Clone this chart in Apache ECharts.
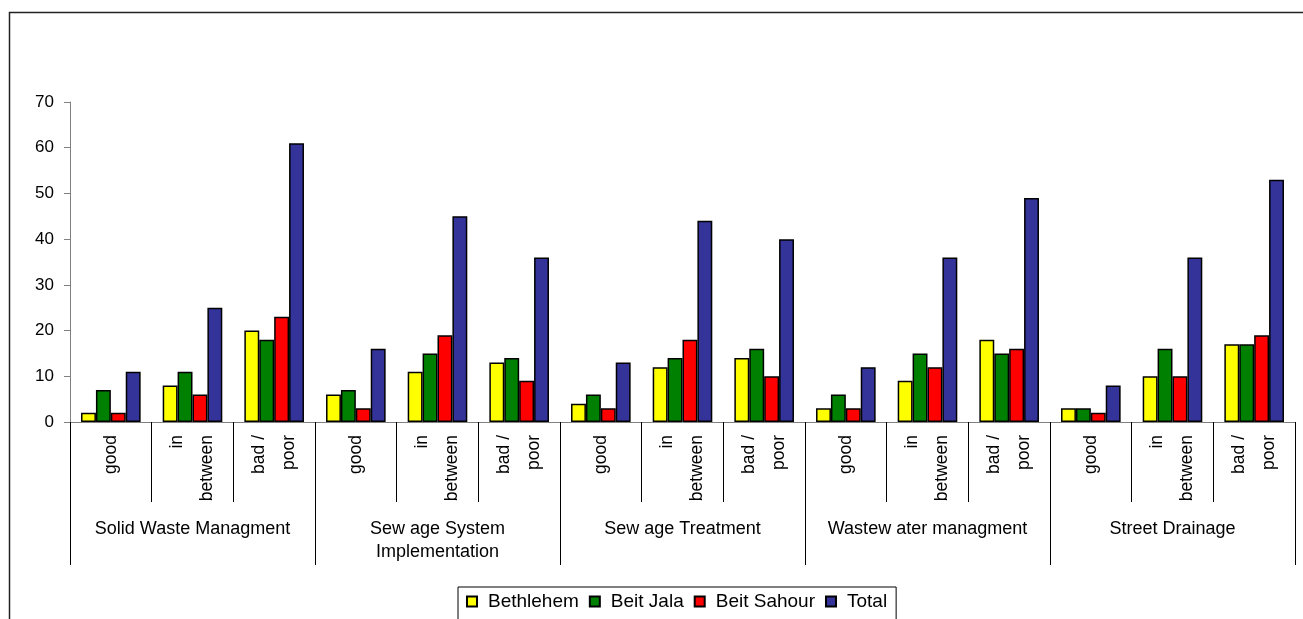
<!DOCTYPE html>
<html>
<head>
<meta charset="utf-8">
<script src="https://cdn.jsdelivr.net/npm/echarts@6/dist/echarts.min.js"></script>
<style>
  html, body { margin: 0; padding: 0; background: #fff; }
  #chart { width: 1303px; height: 619px; }
</style>
</head>
<body>
<div id="chart"></div>
<script>
// Ratings per service area, split by town
const ratings = ['good', 'in\nbetween', 'bad /\npoor'];
const services = [
  'Solid Waste Managment',
  'Sew age System\nImplementation',
  'Sew age Treatment',
  'Wastew ater managment',
  'Street Drainage'
];
const yTicks = { min: 0, max: 70, interval: 10 };

const bethlehem  = [2, 8, 20,   6, 11, 13,   4, 12, 14,   3, 9, 18,   3, 10, 17];
const beitJala   = [7, 11, 18,  7, 15, 14,   6, 14, 16,   6, 15, 15,  3, 16, 17];
const beitSahour = [2, 6, 23,   3, 19, 9,    3, 18, 10,   3, 12, 16,  2, 10, 19];
const total      = [11, 25, 61, 16, 45, 36,  13, 44, 40,  12, 36, 49,  8, 36, 53];

const seriesDefs = [
  { name: 'Bethlehem',   data: bethlehem,  color: '#FFFF00' },
  { name: 'Beit Jala',   data: beitJala,   color: '#008000' },
  { name: 'Beit Sahour', data: beitSahour, color: '#FF0000' },
  { name: 'Total',       data: total,      color: '#333399' }
];

// one inner category per (service, rating) pair
const innerCats = [];
services.forEach(() => ratings.forEach(r => innerCats.push(r)));

const FONT = 'Liberation Sans, Arial, sans-serif';

const chart = echarts.init(document.getElementById('chart'));
chart.setOption({
  animation: false,
  backgroundColor: '#fff',
  textStyle: { fontFamily: FONT },
  graphic: [{
    type: 'rect',
    shape: { x: 9.5, y: 12.5, width: 1400, height: 700 },
    style: { fill: 'none', stroke: '#222', lineWidth: 1.5 },
    silent: true
  }],
  legend: {
    left: 458,
    top: 587,
    padding: [5, 9, 12, 8],
    borderColor: '#000',
    borderWidth: 1,
    itemWidth: 10,
    itemHeight: 10,
    itemGap: 10,
    icon: 'rect',
    textStyle: { fontSize: 19, color: '#000', fontFamily: FONT, padding: [0, 0, 0, 6] },
    data: seriesDefs.map(s => s.name)
  },
  grid: { left: 70, right: 8, top: 102, bottom: 197, containLabel: false },
  xAxis: [
    {
      type: 'category',
      data: innerCats,
      position: 'bottom',
      axisLine: { show: true, lineStyle: { color: '#808080', width: 1 } },
      axisTick: { show: true, interval: 0, length: 80, lineStyle: { color: '#000', width: 1 } },
      axisLabel: {
        interval: 0,
        rotate: 90,
        margin: 13,
        fontSize: 17.5,
        lineHeight: 30,
        color: '#000',
        fontFamily: FONT
      },
      splitLine: { show: false }
    },
    {
      type: 'category',
      data: services,
      position: 'bottom',
      axisLine: { show: false },
      axisTick: { show: true, interval: 0, length: 143, lineStyle: { color: '#000', width: 1 } },
      axisLabel: {
        interval: 0,
        margin: 96,
        fontSize: 18,
        lineHeight: 23,
        color: '#000',
        fontFamily: FONT
      },
      splitLine: { show: false }
    }
  ],
  yAxis: {
    type: 'value',
    min: yTicks.min,
    max: yTicks.max,
    interval: yTicks.interval,
    axisLine: { show: true, lineStyle: { color: '#808080', width: 1 } },
    axisTick: { show: true, length: 6, lineStyle: { color: '#808080' } },
    axisLabel: { fontSize: 17, color: '#000', margin: 16, fontFamily: FONT },
    splitLine: { show: false }
  },
  series: seriesDefs.map(s => ({
    name: s.name,
    type: 'bar',
    xAxisIndex: 0,
    data: s.data,
    barGap: '0%',
    barCategoryGap: '27%',
    itemStyle: { color: s.color, borderColor: '#000', borderWidth: 1.5 }
  }))
});
</script>
</body>
</html>
